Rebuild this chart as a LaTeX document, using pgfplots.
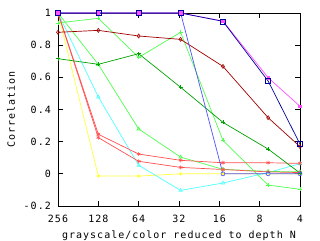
\documentclass[border=0pt]{standalone}
\usepackage{fontspec}
\setmainfont{DejaVu Sans Mono}[LetterSpace=10]
\usepackage{pgfplots}
\pgfplotsset{compat=1.18}
\definecolor{cnavy}{RGB}{0,0,160}
\definecolor{cmag}{RGB}{255,80,255}
\definecolor{cblue}{RGB}{80,80,255}
\definecolor{cdred}{RGB}{160,0,0}
\definecolor{cdgreen}{RGB}{0,160,0}
\definecolor{clgreen}{RGB}{80,255,80}
\definecolor{ccyan}{RGB}{80,255,255}
\definecolor{cred}{RGB}{255,80,80}
\definecolor{cyel}{RGB}{255,255,64}
\begin{document}
\begin{tikzpicture}
\useasboundingbox (-58pt,-34pt) rectangle (262pt,206pt);
\begin{axis}[at={(0,0)}, anchor=south west, scale only axis, width=242pt, height=193pt,
 xmin=0, xmax=6, ymin=-0.2, ymax=1,
 xtick={0,1,2,3,4,5,6}, xticklabels={256,128,64,32,16,8,4},
 ytick={-0.2,0,0.2,0.4,0.6,0.8,1}, yticklabels={-0.2,0,0.2,0.4,0.6,0.8,1},
 tick align=inside, major tick length=5pt,
 tick style={black, line width=0.8pt},
 axis line style={line width=0.8pt},
 font=\fontsize{10}{12}\selectfont,
 xticklabel style={anchor=base, yshift=-16pt, inner sep=0pt},
 yticklabel style={anchor=east, inner sep=0pt, xshift=-7pt},
 xlabel={grayscale/color reduced to depth N},
 ylabel={Correlation},
 xlabel style={at={(axis description cs:0.5,-0.166)}, anchor=base, inner sep=0pt},
 ylabel style={at={(axis description cs:-0.194,0.5)}, anchor=center, inner sep=0pt},
 every axis plot/.append style={line width=0.7pt, mark size=2pt, mark options={solid, line width=0.6pt}},
]
% yellow
\addplot[cyel, mark=asterisk] coordinates {(0,1) (1,-0.014) (2,-0.014) (3.04,0) (4.09,0) (5.21,0) (6,0)};
% cyan
\addplot[ccyan, mark=triangle] coordinates {(0,1) (1,0.478) (2,0.053) (3.04,-0.103) (4.09,-0.057) (5.21,0.008) (6,0.063)};
% light green B
\addplot[clgreen, mark=triangle] coordinates {(0,1) (1,0.68) (2,0.279) (3.04,0.104) (4.09,0.028) (5.21,0.015) (6,0.012)};
% light green A
\addplot[clgreen, mark=+] coordinates {(0,0.938) (1,0.967) (2,0.724) (3.04,0.88) (4.09,0.208) (5.21,-0.07) (6,-0.096)};
% red A
\addplot[cred, mark=asterisk] coordinates {(0,1) (1,0.246) (2,0.123) (3.04,0.084) (4.09,0.069) (5.21,0.069) (6,0.065)};
% red B
\addplot[cred, mark=asterisk] coordinates {(0,1) (1,0.225) (2,0.078) (3.04,0.04) (4.09,0.027) (5.21,0.012) (6,0.008)};
% dark green
\addplot[cdgreen, mark=+] coordinates {(0,0.716) (1,0.681) (2,0.747) (3.04,0.538) (4.09,0.32) (5.21,0.154) (6,0.005)};
% dark red
\addplot[cdred, mark=diamond] coordinates {(0,0.88) (1,0.892) (2,0.857) (3.04,0.836) (4.09,0.668) (5.21,0.349) (6,0.169)};
% medium blue
\addplot[cblue, mark=o] coordinates {(0,1) (1,1) (2,1) (3.04,1) (4.09,0) (5.21,0) (6,0)};
% magenta
\addplot[cmag, mark=square*, mark size=1.3pt] coordinates {(0,1) (1,1) (2,1) (3.04,1) (4.09,0.95) (5.21,0.598) (6,0.42)};
% navy
\addplot[cnavy, mark=square, mark size=2.5pt] coordinates {(0,1) (1,1) (2,1) (3.04,1) (4.09,0.948) (5.21,0.577) (6,0.185)};
\end{axis}
\end{tikzpicture}
\end{document}
